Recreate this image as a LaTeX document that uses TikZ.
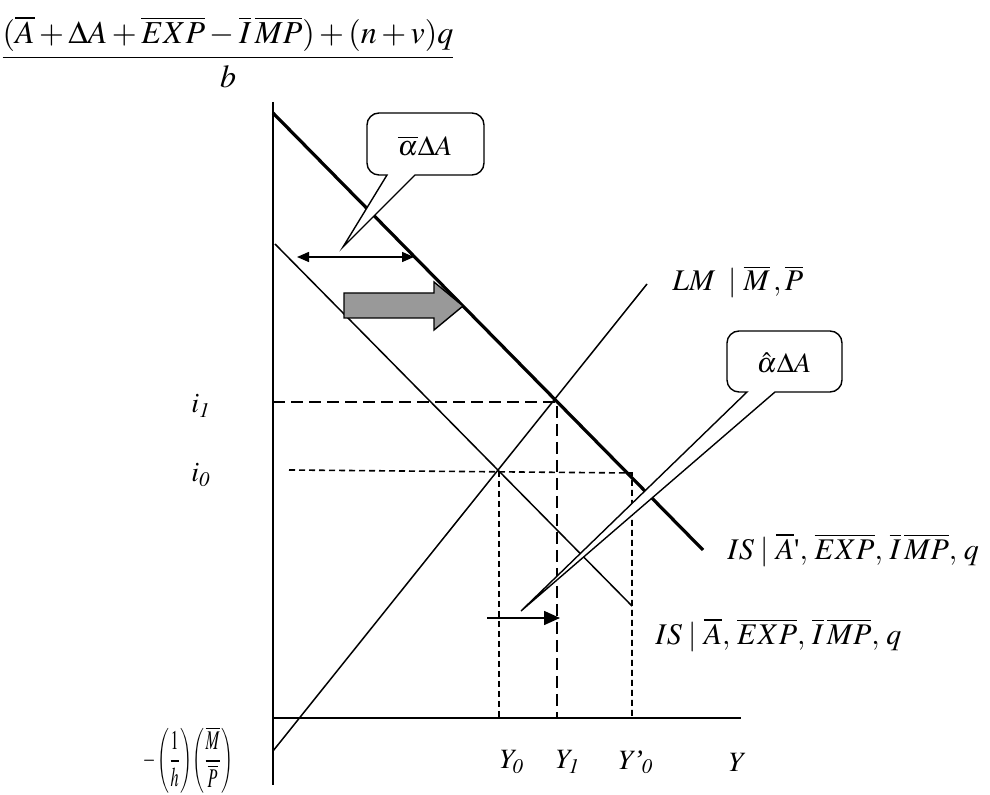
\documentclass[tikz,border=0pt]{standalone}
\usepackage{mathptmx}
\usepackage{amsmath}
\usepackage{fontspec}
\setmainfont{Liberation Serif}
\usetikzlibrary{arrows.meta}
\definecolor{arrowgray}{RGB}{153,153,153}
\tikzset{
  lbl/.style={inner sep=0pt, font=\fontsize{15}{18}\selectfont},
  axlbl/.style={inner sep=0pt, font=\fontsize{14}{17}\selectfont},
  cotext/.style={inner sep=0pt, font=\fontsize{14}{17}\selectfont},
  axisline/.style={line width=1.1pt},
  thinline/.style={line width=0.75pt},
  thickline/.style={line width=1.6pt},
  longdash/.style={line width=0.8pt, dash pattern=on 6pt off 3pt},
  shortdash/.style={line width=0.8pt, dash pattern=on 3pt off 2pt},
  callout/.style={line width=0.7pt, fill=white}
}
\begin{document}
\begin{tikzpicture}[x=0.5pt,y=-0.5pt]
\useasboundingbox (0,0) rectangle (990,795);
% coordinates
\coordinate (ytop) at (273,102);
\coordinate (ybot) at (273,785);
\coordinate (xl) at (273,718);
\coordinate (xr) at (741,718);
\coordinate (lma) at (273,751);
\coordinate (lmb) at (647,284);
\coordinate (isa) at (273,113);
\coordinate (isb) at (703,550);
\coordinate (ita) at (275,244);
\coordinate (itb) at (632,606);
\coordinate (e1) at (557,402);
\coordinate (e1l) at (273,402);
\coordinate (e1d) at (557,718);
\coordinate (e0l) at (289,470);
\coordinate (e0) at (499,471);
\coordinate (e0d) at (499,718);
\coordinate (e0r) at (632,473);
\coordinate (e0rd) at (632,718);
% axes
\draw[axisline] (ytop) -- (ybot);
\draw[axisline] (xl) -- (xr);
% curves
\draw[thinline] (lma) -- (lmb);
\draw[thickline] (isa) -- (isb);
\draw[thinline] (ita) -- (itb);
% dashed guides
\draw[longdash] (e1l) -- (e1) -- (e1d);
\draw[shortdash] (e0l) -- (e0r) -- (e0rd);
\draw[shortdash] (e0) -- (e0d);
% double arrow
\coordinate (da) at (297,257);
\coordinate (db) at (414,257);
\draw[{Triangle[length=6pt,width=5pt]}-{Triangle[length=6pt,width=5pt]}, line width=0.7pt] (da) -- (db);
% gray block arrow
\draw[line width=0.7pt, fill=arrowgray] (344,293) -- (434,293) -- (434,282) -- (463,306) -- (434,330) -- (434,318) -- (344,318) -- cycle;
% small arrow
\coordinate (sa) at (487,618);
\coordinate (sb) at (560,618);
\draw[-{Triangle[length=8pt,width=7pt]}, line width=0.8pt] (sa) -- (sb);
% callout 1
\draw[callout] (387,175) [sharp corners] -- (343,247) -- (415,175) [rounded corners=6pt] -- (484,175) -- (484,113) -- (367,113) -- (367,175) [sharp corners] -- cycle;
\node[cotext] (c1) at (425,146) {$\overline{\alpha}\Delta A$};
% callout 2
\draw[callout] (747,392) [sharp corners] -- (521,611) -- (775,392) [rounded corners=6pt] -- (842,392) -- (842,331) -- (727,331) -- (727,392) [sharp corners] -- cycle;
\node[cotext] (c2) at (784,363) {$\hat{\alpha}\Delta A$};
% labels
\node[inner sep=0pt, font=\fontsize{16}{19}\selectfont] (frac) at (228,52) {$\dfrac{(\overline{A}+\Delta A+\overline{E}\overline{XP}-\overline{I}\,\overline{MP})+(n+v)q}{b}$};
\node[lbl, anchor=west] (lm) at (672,282) {$LM\;\mid\overline{M}\,,\overline{P}$};
\node[lbl, anchor=west] (is1) at (727,550) {$IS\mid\overline{A}\text{\textquotesingle},\,\overline{E}\overline{XP},\,\overline{I}\,\overline{MP},\,q$};
\node[lbl, anchor=west] (is0) at (655,635) {$IS\mid\overline{A},\,\overline{E}\overline{XP},\,\overline{I}\,\overline{MP},\,q$};
\node[axlbl] (i1) at (201,406) {$i_{\mathit{1}}$};
\node[axlbl] (i0) at (201,475) {$i_{\mathit{0}}$};
\node[axlbl] (y0) at (512,762) {$Y_{\mathit{0}}$};
\node[axlbl] (y1) at (568,762) {$Y_{\mathit{1}}$};
\node[axlbl] (y0p) at (636,762) {$Y$\kern-1.5pt\textit{’}\kern-0.5pt$_{\mathit{0}}$};
\node[axlbl] (yy) at (738,762) {$Y$};
\node[inner sep=0pt, font=\fontsize{13.5}{16}\selectfont] (mp) at (188,760) {\scalebox{0.6}[1]{$-\left(\dfrac{1}{h}\right)\!\left(\dfrac{\overline{M}}{\overline{P}}\right)$}};
\end{tikzpicture}
\end{document}
